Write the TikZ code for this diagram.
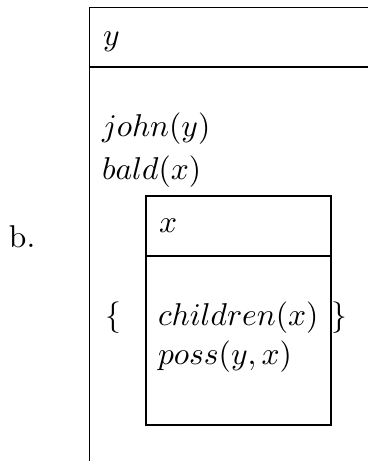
\documentclass[tikz,border=0pt]{standalone}
\usepackage{amsmath}
\usepackage{tikz}

\tikzset{
    txt/.style={anchor=base west, inner sep=0pt, outer sep=0pt}
}

\begin{document}
\begin{tikzpicture}[x=0.317pt, y=-0.317pt]
    \useasboundingbox (0,0) rectangle (368,461);
    % outer box, open on the right and at the bottom
    \draw (368,7.5) -- (89.5,7.5) -- (89.5,461);
    \draw (89.5,67) -- (368,67);
    % embedded box
    \draw (146,196) rectangle (331,425);
    \draw (146,256) -- (331,256);

    \node[txt] (lbl)   at (9,247)   {b.};
    \node[txt] (refy)  at (103,46)  {$y$};
    \node[txt] (john)  at (102,137) {$john(y)$};
    \node[txt] (bald)  at (102,180) {$bald(x)$};
    \node[txt] (refx)  at (159,233) {$x$};
    \node[txt] (lbr)   at (105,325) {$\{$};
    \node[txt] (child) at (158,325) {$children(x)$};
    \node[txt] (poss)  at (158,364) {$poss(y,x)$};
    \node[txt] (rbr)   at (331.5,325) {$\}$};
\end{tikzpicture}
\end{document}
